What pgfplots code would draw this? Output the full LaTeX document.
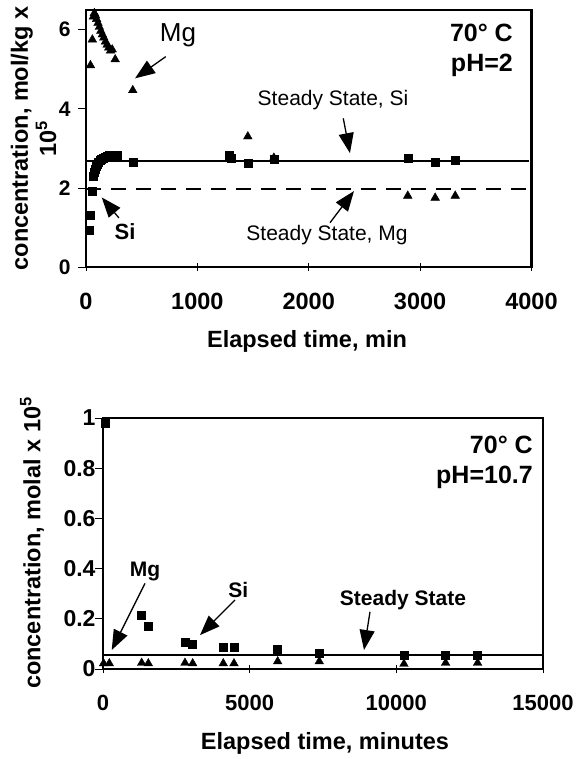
\documentclass[border=0pt]{standalone}
\usepackage{fontspec}
\setmainfont{Liberation Sans}
\usepackage{pgfplots}
\pgfplotsset{compat=1.18}
\usetikzlibrary{arrows.meta}

\newcommand{\fs}[1]{\fontsize{#1}{1.2\dimexpr#1\relax}\selectfont}

\pgfplotsset{
  rxn/.style={
    scale only axis,
    clip=false,
    axis line style={line width=2.5bp},
    every tick/.style={black, line width=0.8bp},
    major tick length=8bp,
    xtick pos=bottom, ytick pos=left,
    xtick align=center, ytick align=outside,
    scaled x ticks=false, scaled y ticks=false,
    /pgf/number format/assume math mode=true,
    /pgf/number format/1000 sep={},
    tick label style={font=\bfseries\fs{21bp}},
  },
  si/.style={only marks, mark=square*, mark size=4bp, black},
  mg/.style={only marks, mark=triangle*, mark size=5bp, black},
}
\tikzset{pointer/.style={line width=1.3bp, -{Triangle[length=20bp,width=15bp]}}}

\begin{document}
\begin{tikzpicture}
\useasboundingbox (0,0) rectangle (578bp,759bp);

% upper panel, pH 2
\begin{axis}[rxn,
  at={(86bp,492bp)}, anchor=south west,
  width=445.5bp, height=257bp,
  xmin=0, xmax=4000, ymin=0, ymax=6.5,
  xtick={0,1000,...,4000}, ytick={0,2,4,6},
  xticklabel style={font=\bfseries\fs{23.5bp}, yshift=-19bp},
  yticklabel style={font=\bfseries\fs{21bp}, xshift=-4bp},
]
\addplot[black, line width=2bp] coordinates {(0,2.68) (3980,2.68)};
\addplot[black, line width=2bp, dash pattern=on 15bp off 10bp] coordinates {(0,1.97) (4000,1.97)};

\addplot[mg] coordinates {
(40,5.1) (57,5.75) (66,6.33) (75,6.42) (85,6.36) (95,6.27) (108,6.17)
(120,6.07) (133,5.97) (147,5.88) (160,5.8) (175,5.7) (190,5.62)
(205,5.55) (220,5.47) (235,5.5) (262,5.25) (420,4.47)
(1300,2.78) (1453,3.3) (1687,2.76) (2889,1.8) (3135,1.75) (3315,1.8)};

\addplot[si] coordinates {
(30,0.92) (42,1.32) (57,1.91) (66,2.29) (72,2.4) (80,2.48) (90,2.55)
(100,2.6) (112,2.65) (125,2.69) (140,2.73) (155,2.76) (172,2.78)
(190,2.8) (210,2.82) (232,2.83) (255,2.84) (276,2.84) (420,2.65)
(1290,2.83) (1300,2.74) (1453,2.62) (1687,2.73) (2889,2.75) (3135,2.64) (3315,2.7)};

\node[font=\fs{26bp}] at (axis cs:826,5.87) {Mg};
\draw[pointer] (axis cs:716,5.32) -- (axis cs:440,4.77);
\node[font=\bfseries\fs{22bp}] at (axis cs:350,0.89) {Si};
\draw[pointer] (axis cs:296,1.24) -- (axis cs:141,1.76);
\node[font=\fs{21bp}] at (axis cs:2218,4.22) {Steady State, Si};
\draw[pointer] (axis cs:2310,3.76) -- (axis cs:2370,2.88);
\node[font=\fs{21bp}] at (axis cs:2164,0.81) {Steady State, Mg};
\draw[pointer] (axis cs:2191,1.12) -- (axis cs:2406,1.92);
\node[font=\bfseries\fs{25bp}, align=right, anchor=north east, inner sep=0pt]
  at (axis cs:3834,6.15) {70° C\\pH=2};
\end{axis}

\node[font=\bfseries\fs{23.5bp}, rotate=90, align=center] at (33.5bp,620.5bp)
  {concentration, mol/kg x\\10\textsuperscript{5}};
\node[font=\bfseries\fs{23.5bp}] at (307bp,417.3bp) {Elapsed time, min};

% lower panel, pH 10.7
\begin{axis}[rxn,
  at={(103bp,90bp)}, anchor=south west,
  width=440bp, height=251bp,
  xmin=0, xmax=15000, ymin=0, ymax=1,
  xtick={0,5000,10000,15000}, ytick={0,0.2,...,1},
  xticklabel style={font=\bfseries\fs{22bp}, yshift=-19bp},
  yticklabel style={font=\bfseries\fs{23bp}, xshift=4bp},
]
\addplot[black, line width=2bp] coordinates {(0,0.056) (15000,0.056)};

\addplot[mg] coordinates {
(20,0.022) (215,0.022) (1318,0.024) (1545,0.022) (2795,0.024) (3057,0.022)
(4100,0.022) (4465,0.022) (5955,0.03) (7373,0.03) (10259,0.02) (11680,0.024) (12771,0.024)};

\addplot[si] coordinates {
(68,0.98) (1318,0.215) (1545,0.17) (2795,0.105) (3057,0.1) (4100,0.086)
(4465,0.085) (5955,0.078) (7373,0.062) (10259,0.056) (11680,0.054) (12771,0.054)};

\node[font=\bfseries\fs{21bp}] at (axis cs:1432,0.387) {Mg};
\draw[pointer] (axis cs:1432,0.341) -- (axis cs:297,0.0756);
\node[font=\bfseries\fs{21bp}] at (axis cs:4613,0.314) {Si};
\draw[pointer] (axis cs:4500,0.275) -- (axis cs:3307,0.135);
\node[font=\bfseries\fs{21bp}] at (axis cs:10227,0.275) {Steady State};
\draw[pointer] (axis cs:9102,0.228) -- (axis cs:8898,0.0756);
\node[font=\bfseries\fs{25bp}, align=right, anchor=north east, inner sep=0pt]
  at (axis cs:14659,0.93) {70° C\\pH=10.7};
\end{axis}

\node[font=\bfseries\fs{23.5bp}, rotate=90] at (32bp,216bp)
  {concentration, molal x 10\textsuperscript{5}};
\node[font=\bfseries\fs{23.5bp}] at (325bp,16bp) {Elapsed time, minutes};
\end{tikzpicture}
\end{document}
